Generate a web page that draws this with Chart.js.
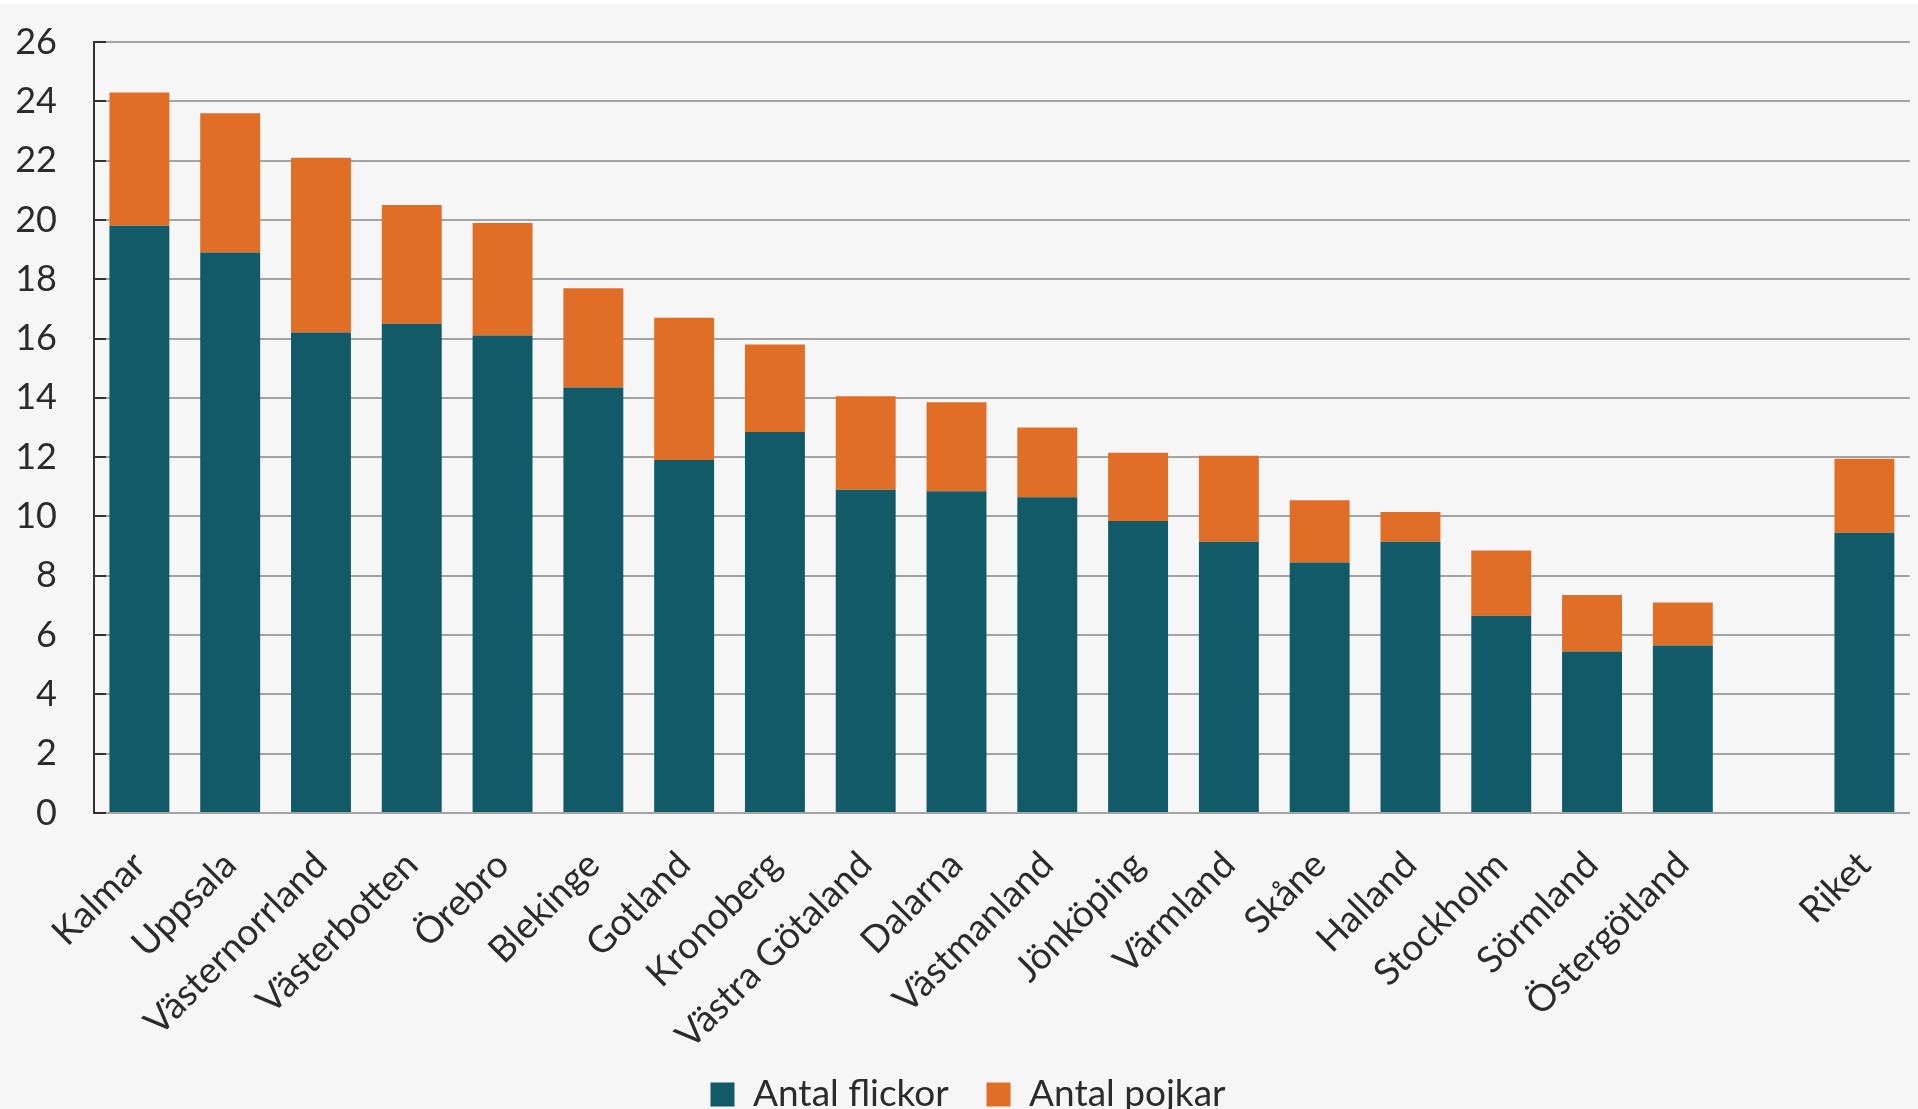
<!DOCTYPE html>
<html lang="sv">
  <head>
    <meta charset="UTF-8" />
    <title>Antal flickor och pojkar per län</title>
    <script src="https://cdn.jsdelivr.net/npm/chart.js@4.4.1/dist/chart.umd.min.js"></script>
    <style>
      html, body { margin: 0; padding: 0; background: #ffffff; }
      #wrap { width: 1918px; height: 1109px; }
    </style>
  </head>
  <body>
    <div id="wrap"><canvas id="myChart" width="1918" height="1109"></canvas></div>

    <script>
      // län, sorted by total; an empty slot separates Riket from the rest
      const categories = [
        "Kalmar", "Uppsala", "Västernorrland", "Västerbotten", "Örebro",
        "Blekinge", "Gotland", "Kronoberg", "Västra Götaland", "Dalarna",
        "Västmanland", "Jönköping", "Värmland", "Skåne", "Halland",
        "Stockholm", "Sörmland", "Östergötland", "", "Riket",
      ];
      const flickor = [
        19.8, 18.9, 16.2, 16.5, 16.1, 14.35, 11.9, 12.85, 10.9, 10.85,
        10.65, 9.85, 9.15, 8.45, 9.15, 6.65, 5.45, 5.65, null, 9.45,
      ];
      const pojkar = [
        4.5, 4.7, 5.9, 4.0, 3.8, 3.35, 4.8, 2.95, 3.15, 3.0,
        2.35, 2.3, 2.9, 2.1, 1.0, 2.2, 1.9, 1.45, null, 2.5,
      ];
      const yTicks = [0, 2, 4, 6, 8, 10, 12, 14, 16, 18, 20, 22, 24, 26];

      const FONT = "Lato, 'Open Sans', sans-serif";
      const TEXT = "#2b2b2b";
      const PLOT_BOTTOM = 813; // pixel row of the zero line
      const PAD_BOTTOM = -14;  // lets the legend sit close to the lower edge

      // light panel with a thin white strip on top
      const background = {
        id: "background",
        beforeDraw(chart) {
          const c = chart.ctx;
          c.save();
          c.fillStyle = "#f6f6f6";
          c.fillRect(0, 4, chart.width, chart.height - 4);
          c.restore();
        },
      };

      // short dark tick marks on the inside of the y axis
      const innerTicks = {
        id: "innerTicks",
        afterDatasetsDraw(chart) {
          const y = chart.scales.y;
          const c = chart.ctx;
          c.save();
          c.strokeStyle = "#333";
          c.lineWidth = 2;
          c.beginPath();
          yTicks.forEach((v) => {
            const py = Math.round(y.getPixelForValue(v));
            c.moveTo(y.right, py);
            c.lineTo(y.right + 12, py);
          });
          c.stroke();
          c.restore();
        },
      };

      // nudge the legend a little to the right
      const legendShift = {
        id: "legendShift",
        afterLayout(chart) {
          chart.legend.left += 13;
          chart.legend.right += 13;
        },
      };

      const ctx = document.getElementById("myChart");

      new Chart(ctx, {
        type: "bar",
        data: {
          labels: categories,
          datasets: [
            {
              label: "Antal flickor",
              data: flickor,
              backgroundColor: "#135a68",
              barPercentage: 0.66,
              categoryPercentage: 1.0,
            },
            {
              label: "Antal pojkar",
              data: pojkar,
              backgroundColor: "#e06e27",
              barPercentage: 0.66,
              categoryPercentage: 1.0,
            },
          ],
        },
        options: {
          responsive: false,
          animation: false,
          layout: { padding: { top: 42, right: 8, left: 0, bottom: PAD_BOTTOM } },
          plugins: {
            legend: {
              position: "bottom",
              labels: {
                color: TEXT,
                font: { family: FONT, size: 37 },
                boxWidth: 24,
                boxHeight: 24,
                padding: 10,
                // wider gap after the first entry
                generateLabels(chart) {
                  const items = Chart.defaults.plugins.legend.labels.generateLabels(chart);
                  items[0].text += "\u2003";
                  return items;
                },
              },
            },
            tooltip: { enabled: false },
          },
          scales: {
            x: {
              stacked: true,
              grid: { display: false },
              border: { display: false },
              ticks: {
                autoSkip: false,
                maxRotation: 45,
                minRotation: 45,
                padding: 22,
                color: TEXT,
                font: { family: FONT, size: 37 },
              },
              afterFit(s) {
                s.height = s.chart.height - PAD_BOTTOM - PLOT_BOTTOM - s.chart.legend.height;
              },
            },
            y: {
              stacked: true,
              min: 0,
              max: 26,
              afterBuildTicks(s) {
                s.ticks = yTicks.map((v) => ({ value: v }));
              },
              grid: {
                color: "#a3a3a3",
                lineWidth: 2,
                drawTicks: true,
                tickLength: 37,
                tickColor: "transparent",
              },
              border: { color: "#333", width: 2 },
              ticks: {
                padding: 0,
                color: TEXT,
                font: { family: FONT, size: 36 },
              },
              afterFit(s) {
                s.width = 94;
              },
            },
          },
        },
        plugins: [background, innerTicks, legendShift],
      });
    </script>
  </body>
</html>
